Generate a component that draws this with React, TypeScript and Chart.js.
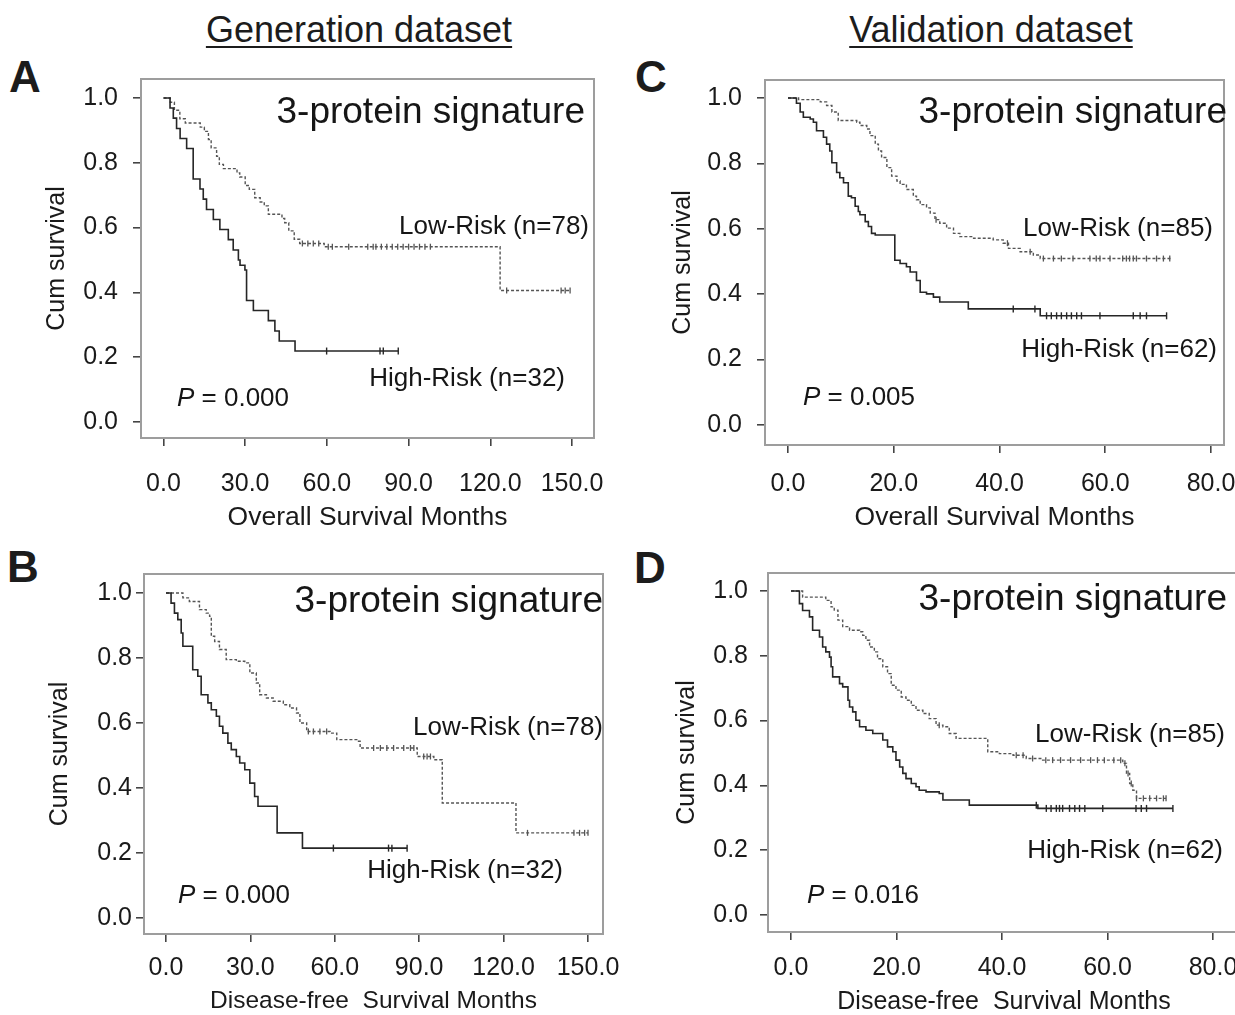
import React, { useEffect, useRef } from "react";
import { Chart, registerables } from "chart.js";

Chart.register(...registerables);

const FONT = "'Liberation Sans', Arial, Helvetica, sans-serif";

// ---------- tick labels ----------
const Y_TICKS = [0, 0.2, 0.4, 0.6, 0.8, 1.0];
const X_TICKS_GEN = [0, 30, 60, 90, 120, 150];
const X_TICKS_VAL = [0, 20, 40, 60, 80];

// ---------- A: generation, overall survival ----------
const A_HIGH_T = [2.4, 3.6, 4.8, 6.1, 8.5, 10.9, 13.4, 14.6, 15.8, 18.3, 20.7, 23.8, 25.6, 27.5, 28.1, 29.9, 30.5, 33.0, 38.5, 40.9, 42.5, 48.3];
const A_HIGH_S = [0.969, 0.938, 0.906, 0.875, 0.844, 0.75, 0.719, 0.688, 0.656, 0.625, 0.594, 0.563, 0.531, 0.5, 0.484, 0.469, 0.375, 0.344, 0.313, 0.281, 0.25, 0.219];
const A_HIGH_END = 86.2;
const A_HIGH_CENSOR = [59.9, 79.5, 80.7, 86.2];

const A_LOW_T = [2.5, 4, 6, 8, 13.5, 15, 16.5, 17.5, 19.5, 20.5, 22, 27, 28, 30, 31.5, 33.5, 35.5, 37, 38.5, 43.5, 44.5, 46, 48, 50, 59, 123.6];
const A_LOW_S = [0.987, 0.962, 0.936, 0.923, 0.91, 0.897, 0.872, 0.846, 0.82, 0.795, 0.782, 0.769, 0.756, 0.73, 0.718, 0.692, 0.679, 0.667, 0.641, 0.628, 0.615, 0.59, 0.564, 0.551, 0.541, 0.406];
const A_LOW_END = 149.3;
const A_LOW_CENSOR = [51, 53, 55, 57, 60.5, 62, 68, 75, 77, 78, 80, 82, 84, 86, 88, 90, 92, 94, 96, 98, 126, 146, 147.5, 149.3];

// ---------- B: generation, disease-free survival ----------
const B_HIGH_T = [1.8, 3.0, 4.2, 5.4, 6.0, 9.5, 11.3, 12.5, 14.9, 16.1, 17.9, 19.0, 20.2, 22.0, 23.2, 25.0, 26.2, 28.0, 29.8, 31.5, 32.7, 39.5, 48.5];
const B_HIGH_S = [0.969, 0.938, 0.918, 0.877, 0.836, 0.764, 0.744, 0.687, 0.662, 0.641, 0.621, 0.59, 0.569, 0.538, 0.518, 0.497, 0.477, 0.456, 0.415, 0.374, 0.344, 0.262, 0.215];
const B_HIGH_END = 85.7;
const B_HIGH_CENSOR = [59.5, 79.1, 80.3, 85.7];

const B_LOW_T = [6.0, 8.3, 11.9, 14.3, 15.5, 16.1, 17.3, 19.0, 21.4, 25.0, 28.0, 29.8, 32.1, 33.3, 35.7, 38.1, 41.7, 44.0, 46.4, 47.6, 50.0, 58.3, 60.7, 67.8, 69.0, 89.3, 95.2, 98.2, 124.4];
const B_LOW_S = [0.985, 0.974, 0.949, 0.938, 0.928, 0.867, 0.851, 0.826, 0.795, 0.79, 0.785, 0.754, 0.723, 0.687, 0.677, 0.667, 0.656, 0.646, 0.631, 0.6, 0.574, 0.569, 0.549, 0.544, 0.523, 0.497, 0.487, 0.354, 0.262];
const B_LOW_END = 150;
const B_LOW_CENSOR = [50.6, 52.4, 54.7, 57.1, 73.8, 76.2, 78.5, 80.9, 84.5, 86.9, 88.1, 91.6, 92.8, 94.0, 128.5, 145.0, 147.0, 148.8, 150];

// ---------- C: validation, overall survival ----------
const C_HIGH_T = [1.6, 2.3, 2.9, 4.2, 4.8, 5.4, 6.7, 7.3, 7.9, 8.3, 9.2, 9.8, 10.5, 11.4, 12.0, 12.7, 13.3, 13.6, 14.6, 15.2, 15.8, 16.5, 20.2, 21.2, 22.4, 23.1, 24.3, 25.0, 26.2, 27.5, 28.7, 34.1, 47.7];
const C_HIGH_S = [0.984, 0.957, 0.941, 0.936, 0.926, 0.9, 0.88, 0.859, 0.838, 0.802, 0.772, 0.756, 0.741, 0.7, 0.695, 0.669, 0.653, 0.643, 0.622, 0.607, 0.586, 0.581, 0.504, 0.494, 0.484, 0.468, 0.442, 0.406, 0.401, 0.391, 0.376, 0.355, 0.334];
const C_HIGH_END = 71.6;
const C_HIGH_CENSOR = [42.6, 46.7, 48.9, 49.8, 50.8, 51.7, 52.7, 53.6, 54.6, 55.5, 59.0, 65.3, 66.6, 67.8, 71.6];

const C_LOW_T = [2.0, 6.1, 7.3, 8.3, 9.5, 13.0, 13.6, 14.9, 15.5, 16.5, 17.1, 17.7, 18.7, 19.6, 20.6, 21.2, 22.4, 23.7, 24.3, 25.0, 26.2, 26.9, 27.8, 28.7, 30.0, 31.3, 32.5, 35.1, 38.8, 40.7, 41.7, 43.9, 46.4, 47.7];
const C_LOW_S = [0.995, 0.988, 0.977, 0.957, 0.931, 0.926, 0.916, 0.905, 0.885, 0.859, 0.838, 0.818, 0.787, 0.761, 0.746, 0.736, 0.72, 0.7, 0.689, 0.674, 0.664, 0.648, 0.628, 0.617, 0.602, 0.586, 0.576, 0.571, 0.566, 0.556, 0.54, 0.53, 0.52, 0.509];
const C_LOW_END = 72.6;
const C_LOW_CENSOR = [28.0, 41.5, 45.8, 48.3, 50.2, 51.7, 53.9, 57.1, 58.3, 59.0, 60.9, 63.3, 64.0, 64.6, 65.3, 65.9, 67.8, 69.7, 71.0, 72.2];

// ---------- D: validation, disease-free survival ----------
const D_HIGH_T = [1.6, 2.2, 3.5, 4.1, 5.4, 6.0, 6.6, 7.3, 7.6, 7.9, 9.2, 9.8, 10.8, 11.1, 11.7, 12.3, 13.0, 14.2, 15.5, 17.4, 18.3, 19.3, 19.9, 20.6, 21.2, 21.8, 22.8, 23.7, 24.3, 25.6, 28.1, 28.8, 33.8, 46.8];
const D_HIGH_S = [0.961, 0.94, 0.92, 0.879, 0.858, 0.827, 0.812, 0.796, 0.766, 0.735, 0.714, 0.704, 0.663, 0.642, 0.627, 0.601, 0.581, 0.57, 0.56, 0.54, 0.519, 0.504, 0.478, 0.457, 0.437, 0.421, 0.406, 0.396, 0.385, 0.38, 0.375, 0.355, 0.339, 0.329];
const D_HIGH_END = 72.4;
const D_HIGH_CENSOR = [46.5, 48.4, 49.3, 50.3, 50.9, 51.5, 52.8, 53.8, 54.7, 55.7, 59.1, 65.4, 66.4, 67.4, 72.4];

const D_LOW_T = [2.2, 6.6, 7.6, 8.2, 8.9, 9.8, 11.1, 13.0, 13.6, 14.2, 14.9, 15.8, 16.4, 17.4, 18.3, 19.0, 19.9, 20.9, 21.8, 22.8, 23.7, 25.0, 26.2, 27.5, 28.8, 30.0, 31.3, 37.3, 39.5, 42.1, 44.6, 47.7, 62.9, 63.6, 64.2, 64.8, 65.5];
const D_LOW_S = [0.981, 0.971, 0.951, 0.941, 0.91, 0.89, 0.879, 0.874, 0.863, 0.848, 0.827, 0.812, 0.791, 0.766, 0.745, 0.709, 0.694, 0.673, 0.663, 0.647, 0.632, 0.622, 0.606, 0.586, 0.581, 0.56, 0.545, 0.504, 0.498, 0.493, 0.483, 0.478, 0.468, 0.437, 0.406, 0.385, 0.36];
const D_LOW_END = 71.1;
const D_LOW_CENSOR = [28.1, 42.7, 44.0, 45.8, 48.3, 49.6, 51.1, 53.0, 54.9, 56.8, 58.1, 59.4, 61.2, 62.5, 63.3, 63.9, 64.5, 65.5, 66.8, 68.0, 69.3, 70.6, 71.1];

// ---------- layout / styles ----------
type Curve = { t: number[]; s: number[]; end: number; censor: number[] };
type Ann = { text: string; x: number; y: number; size: number; align: CanvasTextAlign; italicP?: boolean };
type Spec = {
  key: string;
  frame: { L: number; R: number; T: number; B: number };
  xTicks: number[];
  xTick0Px: number;
  xTickNPx: number;
  yOnePx: number;
  yZeroPx: number;
  xTitle: string;
  xTitleSize: number;
  yTitleCX: number;
  xTitleCY: number;
  xLabelCY: number;
  yLabelRight: number;
  high: Curve;
  low: Curve;
  ann: Ann[];
};

const Y_AXIS_W = 111;
const X_AXIS_H = 112;
const PAD_T = 40;
const PAD_R = 50;
const TICK_LEN = 8;
const TICK_FONT = 25;
const Y_TITLE_FONT = 25;

const SPECS: Spec[] = [
  {
    key: "A",
    frame: { L: 141, R: 594, T: 79, B: 438 },
    xTicks: X_TICKS_GEN, xTick0Px: 163.5, xTickNPx: 572,
    yOnePx: 98, yZeroPx: 422,
    xTitle: "Overall Survival Months", xTitleSize: 26.5,
    yTitleCX: 57.5, xTitleCY: 518, xLabelCY: 484, yLabelRight: 118,
    high: { t: A_HIGH_T, s: A_HIGH_S, end: A_HIGH_END, censor: A_HIGH_CENSOR },
    low: { t: A_LOW_T, s: A_LOW_S, end: A_LOW_END, censor: A_LOW_CENSOR },
    ann: [
      { text: "3-protein signature", x: 585, y: 123, size: 37, align: "right" },
      { text: "Low-Risk (n=78)", x: 589, y: 234, size: 26, align: "right" },
      { text: "High-Risk (n=32)", x: 565, y: 386, size: 26, align: "right" },
      { text: " = 0.000", x: 177, y: 406, size: 26, align: "left", italicP: true },
    ],
  },
  {
    key: "B",
    frame: { L: 144, R: 603, T: 574, B: 934 },
    xTicks: X_TICKS_GEN, xTick0Px: 166, xTickNPx: 588,
    yOnePx: 593, yZeroPx: 918,
    xTitle: "Disease-free  Survival Months", xTitleSize: 24.5,
    yTitleCX: 60, xTitleCY: 1001, xLabelCY: 968, yLabelRight: 132,
    high: { t: B_HIGH_T, s: B_HIGH_S, end: B_HIGH_END, censor: B_HIGH_CENSOR },
    low: { t: B_LOW_T, s: B_LOW_S, end: B_LOW_END, censor: B_LOW_CENSOR },
    ann: [
      { text: "3-protein signature", x: 603, y: 612, size: 37, align: "right" },
      { text: "Low-Risk (n=78)", x: 603, y: 735, size: 26, align: "right" },
      { text: "High-Risk (n=32)", x: 563, y: 878, size: 26, align: "right" },
      { text: " = 0.000", x: 178, y: 903, size: 26, align: "left", italicP: true },
    ],
  },
  {
    key: "C",
    frame: { L: 765, R: 1224, T: 80, B: 445 },
    xTicks: X_TICKS_VAL, xTick0Px: 788, xTickNPx: 1211,
    yOnePx: 98, yZeroPx: 425,
    xTitle: "Overall Survival Months", xTitleSize: 26.5,
    yTitleCX: 683.5, xTitleCY: 518, xLabelCY: 484, yLabelRight: 742,
    high: { t: C_HIGH_T, s: C_HIGH_S, end: C_HIGH_END, censor: C_HIGH_CENSOR },
    low: { t: C_LOW_T, s: C_LOW_S, end: C_LOW_END, censor: C_LOW_CENSOR },
    ann: [
      { text: "3-protein signature", x: 1227, y: 123, size: 37, align: "right" },
      { text: "Low-Risk (n=85)", x: 1213, y: 236, size: 26, align: "right" },
      { text: "High-Risk (n=62)", x: 1217, y: 357, size: 26, align: "right" },
      { text: " = 0.005", x: 803, y: 405, size: 26, align: "left", italicP: true },
    ],
  },
  {
    key: "D",
    frame: { L: 768, R: 1240, T: 573, B: 932 },
    xTicks: X_TICKS_VAL, xTick0Px: 791, xTickNPx: 1213,
    yOnePx: 591, yZeroPx: 915,
    xTitle: "Disease-free  Survival Months", xTitleSize: 25,
    yTitleCX: 687, xTitleCY: 1002, xLabelCY: 968, yLabelRight: 748,
    high: { t: D_HIGH_T, s: D_HIGH_S, end: D_HIGH_END, censor: D_HIGH_CENSOR },
    low: { t: D_LOW_T, s: D_LOW_S, end: D_LOW_END, censor: D_LOW_CENSOR },
    ann: [
      { text: "3-protein signature", x: 1227, y: 610, size: 37, align: "right" },
      { text: "Low-Risk (n=85)", x: 1225, y: 742, size: 26, align: "right" },
      { text: "High-Risk (n=62)", x: 1223, y: 858, size: 26, align: "right" },
      { text: " = 0.016", x: 807, y: 903, size: 26, align: "left", italicP: true },
    ],
  },
];

function survAt(times: number[], surv: number[], t: number): number {
  let s = 1;
  for (let i = 0; i < times.length; i++) if (times[i] <= t) s = surv[i];
  return s;
}
function curvePoints(c: Curve) {
  const pts = [{ x: 0, y: 1 }];
  c.t.forEach((t, i) => pts.push({ x: t, y: c.s[i] }));
  pts.push({ x: c.end, y: c.s[c.s.length - 1] });
  return pts;
}
function censorPoints(c: Curve) {
  return c.censor.map((t) => ({ x: t, y: survAt(c.t, c.s, t) }));
}

function geometry(s: Spec) {
  const { L, R, T, B } = s.frame;
  const canvasLeft = L - Y_AXIS_W;
  const canvasTop = T - PAD_T;
  const width = R + PAD_R - canvasLeft;
  const height = B + X_AXIS_H - canvasTop;
  return { canvasLeft, canvasTop, width, height };
}

function Panel({ spec }: { spec: Spec }) {
  const ref = useRef<HTMLCanvasElement>(null);
  const g = geometry(spec);

  useEffect(() => {
    const s = spec;
    const { L, R, T, B } = s.frame;
    const xs = s.xTicks;
    const pxPerX = (s.xTickNPx - s.xTick0Px) / (xs[xs.length - 1] - xs[0]);
    const xMin = xs[0] - (s.xTick0Px - L) / pxPerX;
    const xMax = xs[xs.length - 1] + (R - s.xTickNPx) / pxPerX;
    const pxPerY = s.yZeroPx - s.yOnePx;
    const yMax = 1 + (s.yOnePx - T) / pxPerY;
    const yMin = -(B - s.yZeroPx) / pxPerY;
    const yTitlePad = s.yTitleCX - g.canvasLeft - (Y_TITLE_FONT * 1.2) / 2;
    const xTitlePad = B + X_AXIS_H - s.xTitleCY - (s.xTitleSize * 1.2) / 2;
    const xTickPad = s.xLabelCY - B - TICK_LEN - (TICK_FONT * 1.2) / 2;
    const yTickPad = L - s.yLabelRight - TICK_LEN;

    const decor = {
      id: "decor" + s.key,
      beforeDatasetsDraw(chart: any) {
        const { ctx, chartArea: a } = chart;
        ctx.save();
        ctx.strokeStyle = "#9d9d9d";
        ctx.lineWidth = 2;
        ctx.strokeRect(a.left, a.top, a.right - a.left, a.bottom - a.top);
        ctx.restore();
      },
      afterDraw(chart: any) {
        const ctx = chart.ctx as CanvasRenderingContext2D;
        ctx.save();
        ctx.fillStyle = "#161616";
        ctx.textBaseline = "alphabetic";
        for (const an of s.ann) {
          const x = an.x - g.canvasLeft;
          const y = an.y - g.canvasTop;
          if (an.italicP) {
            ctx.textAlign = "left";
            ctx.font = `italic ${an.size}px ${FONT}`;
            ctx.fillText("P", x, y);
            const w = ctx.measureText("P").width;
            ctx.font = `${an.size}px ${FONT}`;
            ctx.fillText(an.text, x + w, y);
          } else {
            ctx.textAlign = an.align;
            ctx.font = `${an.size}px ${FONT}`;
            ctx.fillText(an.text, x, y);
          }
        }
        ctx.restore();
      },
    };

    const HIGH_C = "#262626";
    const LOW_C = "#555555";

    const chart = new Chart(ref.current as HTMLCanvasElement, {
      type: "scatter",
      data: {
        datasets: [
          {
            label: "High-Risk",
            data: curvePoints(s.high),
            showLine: true,
            stepped: true,
            borderColor: HIGH_C,
            borderWidth: 1.6,
            pointRadius: 0,
            pointHoverRadius: 0,
            fill: false,
          },
          {
            label: "High-Risk censored",
            data: censorPoints(s.high),
            showLine: false,
            pointStyle: "line",
            rotation: 90,
            pointRadius: 3.5,
            pointBorderWidth: 1.4,
            pointBorderColor: HIGH_C,
            borderColor: HIGH_C,
            backgroundColor: HIGH_C,
          },
          {
            label: "Low-Risk",
            data: curvePoints(s.low),
            showLine: true,
            stepped: true,
            borderColor: LOW_C,
            borderWidth: 1.4,
            borderDash: [3, 2],
            pointRadius: 0,
            pointHoverRadius: 0,
            fill: false,
          },
          {
            label: "Low-Risk censored",
            data: censorPoints(s.low),
            showLine: false,
            pointStyle: "line",
            rotation: 90,
            pointRadius: 3,
            pointBorderWidth: 1.3,
            pointBorderColor: LOW_C,
            borderColor: LOW_C,
            backgroundColor: LOW_C,
          },
        ] as any,
      },
      options: {
        animation: false,
        responsive: false,
        maintainAspectRatio: false,
        devicePixelRatio: 1,
        events: [],
        layout: { padding: { left: 0, top: PAD_T, right: PAD_R, bottom: 0 } },
        plugins: { legend: { display: false }, tooltip: { enabled: false } },
        scales: {
          x: {
            type: "linear",
            min: xMin,
            max: xMax,
            afterBuildTicks: (sc: any) => {
              sc.ticks = xs.map((v) => ({ value: v }));
            },
            afterFit: (sc: any) => {
              sc.height = X_AXIS_H;
            },
            ticks: {
              callback: (v: any) => Number(v).toFixed(1),
              font: { family: FONT, size: TICK_FONT },
              color: "#1a1a1a",
              padding: xTickPad,
              maxRotation: 0,
              minRotation: 0,
              autoSkip: false,
            },
            grid: {
              display: true,
              drawOnChartArea: false,
              drawTicks: true,
              tickLength: TICK_LEN,
              color: "#444",
              lineWidth: 1.6,
            },
            border: { display: false },
            title: {
              display: true,
              text: s.xTitle,
              font: { family: FONT, size: s.xTitleSize },
              color: "#1a1a1a",
              padding: { top: 0, bottom: xTitlePad },
            },
          },
          y: {
            type: "linear",
            min: yMin,
            max: yMax,
            afterBuildTicks: (sc: any) => {
              sc.ticks = Y_TICKS.map((v) => ({ value: v }));
            },
            afterFit: (sc: any) => {
              sc.width = Y_AXIS_W;
            },
            ticks: {
              callback: (v: any) => Number(v).toFixed(1),
              font: { family: FONT, size: TICK_FONT },
              color: "#1a1a1a",
              padding: yTickPad,
              autoSkip: false,
            },
            grid: {
              display: true,
              drawOnChartArea: false,
              drawTicks: true,
              tickLength: TICK_LEN,
              color: "#444",
              lineWidth: 1.6,
            },
            border: { display: false },
            title: {
              display: true,
              text: "Cum survival",
              font: { family: FONT, size: Y_TITLE_FONT },
              color: "#1a1a1a",
              padding: { top: yTitlePad, bottom: 0 },
            },
          },
        },
      } as any,
      plugins: [decor],
    });
    return () => chart.destroy();
  }, []);

  return (
    <canvas
      ref={ref}
      width={g.width}
      height={g.height}
      style={{ position: "absolute", left: g.canvasLeft, top: g.canvasTop, width: g.width, height: g.height }}
    />
  );
}

const HEADERS = [
  { text: "Generation dataset", cx: 359, top: 12 },
  { text: "Validation dataset", cx: 991, top: 12 },
];
const LETTERS = [
  { text: "A", left: 9, top: 55 },
  { text: "B", left: 7, top: 545 },
  { text: "C", left: 635, top: 55 },
  { text: "D", left: 634, top: 546 },
];

export default function App() {
  return (
    <div
      style={{
        position: "absolute",
        left: 0,
        top: 0,
        width: 1235,
        height: 1015,
        overflow: "hidden",
        background: "#ffffff",
        fontFamily: FONT,
        color: "#1c1c1c",
      }}
    >
      {HEADERS.map((h) => (
        <div
          key={h.text}
          style={{
            position: "absolute",
            left: h.cx - 250,
            top: h.top,
            width: 500,
            textAlign: "center",
            fontSize: 36,
            lineHeight: "36px",
            textDecoration: "underline",
            textDecorationThickness: "2px",
            textUnderlineOffset: "4px",
            whiteSpace: "nowrap",
          }}
        >
          {h.text}
        </div>
      ))}
      {LETTERS.map((l) => (
        <div
          key={l.text}
          style={{
            position: "absolute",
            left: l.left,
            top: l.top,
            fontSize: 44,
            lineHeight: "44px",
            fontWeight: "bold",
          }}
        >
          {l.text}
        </div>
      ))}
      {SPECS.map((s) => (
        <Panel key={s.key} spec={s} />
      ))}
    </div>
  );
}
